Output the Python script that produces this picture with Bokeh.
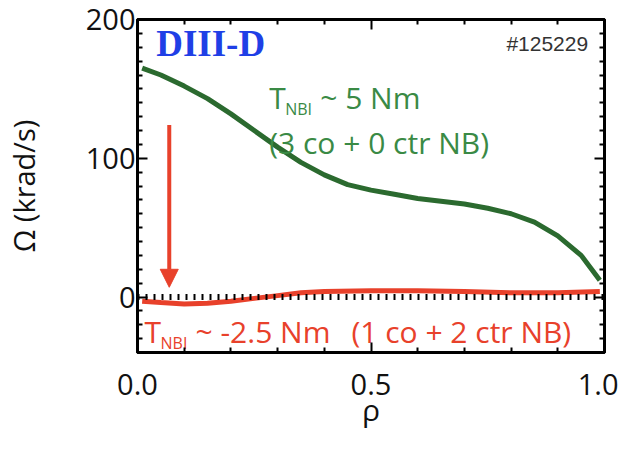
import numpy as np
from bokeh.plotting import figure
from bokeh.models import FixedTicker, LinearAxis, Arrow, NormalHead, Range1d, Span
from bokeh.core.properties import value
from bokeh.embed import file_html
from bokeh.resources import INLINE

# ---- data ----
rho_co = [0.01, 0.05, 0.10, 0.15, 0.20, 0.25, 0.30, 0.35, 0.40, 0.45, 0.50,
          0.55, 0.60, 0.65, 0.70, 0.75, 0.80, 0.85, 0.90, 0.95, 0.99]
omega_co = [165, 160, 152, 143, 132, 120, 108, 97, 88, 81, 77,
            74, 71, 69, 67, 64, 60, 54, 44, 30, 12]

rho_ctr = [0.01, 0.05, 0.10, 0.15, 0.20, 0.25, 0.30, 0.35, 0.40, 0.50,
           0.60, 0.70, 0.80, 0.90, 0.99]
omega_ctr = [-3, -4, -5, -4.5, -3, -1, 1, 3, 4, 4.5, 4.5, 4, 3, 3, 4]

x_major = [0.0, 0.5, 1.0]
x_minor = [0.1, 0.2, 0.3, 0.4, 0.6, 0.7, 0.8, 0.9]
x_tick_labels = {0.0: "0.0", 0.5: "0.5", 1.0: "1.0"}
y_major = [0, 100, 200]
y_minor = [-30, -20, -10, 10, 20, 30, 40, 50, 60, 70, 80, 90,
           110, 120, 130, 140, 150, 160, 170, 180, 190]

arrow_rho = 0.068
arrow_from = 124
arrow_to = 7

GREEN_LINE = "#2b6a2f"
GREEN_TEXT = "#3a8a45"
RED = "#e8412b"
BLUE = "#1f3fe6"
FONT = "Open Sans"

p = figure(frame_width=467, frame_height=333,
           x_range=Range1d(0, 1), y_range=Range1d(-40, 200),
           output_backend="svg", toolbar_location=None,
           min_border_left=127, min_border_right=14,
           min_border_top=19, min_border_bottom=76,
           x_axis_label="ρ", y_axis_label="Ω (krad/s)")
p.grid.visible = False
p.outline_line_color = "black"
p.outline_line_width = 3
p.background_fill_color = "white"
p.border_fill_color = "white"

p.xaxis.ticker = FixedTicker(ticks=x_major, minor_ticks=x_minor)
p.yaxis.ticker = FixedTicker(ticks=y_major, minor_ticks=y_minor)
p.xaxis.major_label_overrides = x_tick_labels


def style_axis(ax, labels=True, ticks=None):
    ax.axis_line_width = 3
    ax.axis_line_color = "black"
    ax.major_tick_in = 10
    ax.major_tick_out = 0
    ax.minor_tick_in = 5
    ax.minor_tick_out = 0
    ax.major_tick_line_width = 2
    ax.minor_tick_line_width = 2
    ax.major_tick_line_color = "black"
    ax.minor_tick_line_color = "black"
    if labels:
        ax.major_label_text_font = FONT
        ax.major_label_text_font_size = "29px"
        ax.major_label_text_color = "#111111"
        ax.axis_label_text_font = FONT
        ax.axis_label_text_font_style = "normal"
        ax.axis_label_text_color = "#111111"
    else:
        ax.major_label_overrides = {t: "" for t in ticks}
        ax.major_label_text_font_size = "6px"
        ax.major_label_standoff = 0


for ax in p.xaxis + p.yaxis:
    style_axis(ax)
p.xaxis.major_label_standoff = 21
p.xaxis.axis_label_standoff = -9
p.xaxis.axis_label_text_font_size = "30px"
p.yaxis.major_label_standoff = 2
p.yaxis.axis_label_standoff = 40
p.yaxis.axis_label_text_font_size = "29px"

top = LinearAxis(ticker=FixedTicker(ticks=x_major, minor_ticks=x_minor))
style_axis(top, labels=False, ticks=x_major)
p.add_layout(top, "above")
right = LinearAxis(ticker=FixedTicker(ticks=y_major, minor_ticks=y_minor))
style_axis(right, labels=False, ticks=y_major)
p.add_layout(right, "right")

# curves
p.line(rho_co, omega_co, line_color=GREEN_LINE, line_width=5)
p.line(rho_ctr, omega_ctr, line_color=RED, line_width=5)
p.add_layout(Span(location=0, dimension="width", line_color="black",
                  line_width=6, line_dash="2 6"))

p.add_layout(Arrow(end=NormalHead(size=18, fill_color=RED, line_color=RED),
                   x_start=arrow_rho, y_start=arrow_from,
                   x_end=arrow_rho, y_end=arrow_to,
                   line_color=RED, line_width=4))

# texts
p.text(x=[0.04], y=[182.7], text=["DIII-D"], text_font=value("Liberation Serif"),
       text_font_style="bold", text_font_size="37px", text_color=BLUE,
       text_baseline="middle")
p.text(x=[0.965], y=[182.7], text=["#125229"], text_font=value("Liberation Sans"),
       text_font_size="21px", text_color="#333333", text_align="right",
       text_baseline="middle")

# green annotation
gx, gy1, gy2 = 0.282, 143.5, 111
p.text(x=[gx], y=[gy1], text=["T"], text_font=value(FONT), text_font_size="30px",
       text_color=GREEN_TEXT, text_baseline="middle")
p.text(x=[gx], y=[gy1], text=["NBI"], text_font=value(FONT), text_font_size="16px",
       text_color=GREEN_TEXT, text_baseline="middle", x_offset=16, y_offset=11)
p.text(x=[gx], y=[gy1], text=["~ 5 Nm"], text_font=value(FONT), text_font_size="30px",
       text_color=GREEN_TEXT, text_baseline="middle", x_offset=51)
p.text(x=[gx], y=[gy2], text=["(3 co + 0 ctr NB)"], text_font=value(FONT),
       text_font_size="30px", text_color=GREEN_TEXT, text_baseline="middle")

# red annotation
rx, ry = 0.015, -25
p.text(x=[rx], y=[ry], text=["T"], text_font=value(FONT), text_font_size="30px",
       text_color=RED, text_baseline="middle")
p.text(x=[rx], y=[ry], text=["NBI"], text_font=value(FONT), text_font_size="16px",
       text_color=RED, text_baseline="middle", x_offset=16, y_offset=11)
p.text(x=[rx], y=[ry], text=["~ -2.5 Nm"], text_font=value(FONT), text_font_size="30px",
       text_color=RED, text_baseline="middle", x_offset=51)
p.text(x=[0.458], y=[ry], text=["(1 co + 2 ctr NB)"], text_font=value(FONT),
       text_font_size="30px", text_color=RED, text_baseline="middle")

open("out.html", "w").write(file_html(p, INLINE))
